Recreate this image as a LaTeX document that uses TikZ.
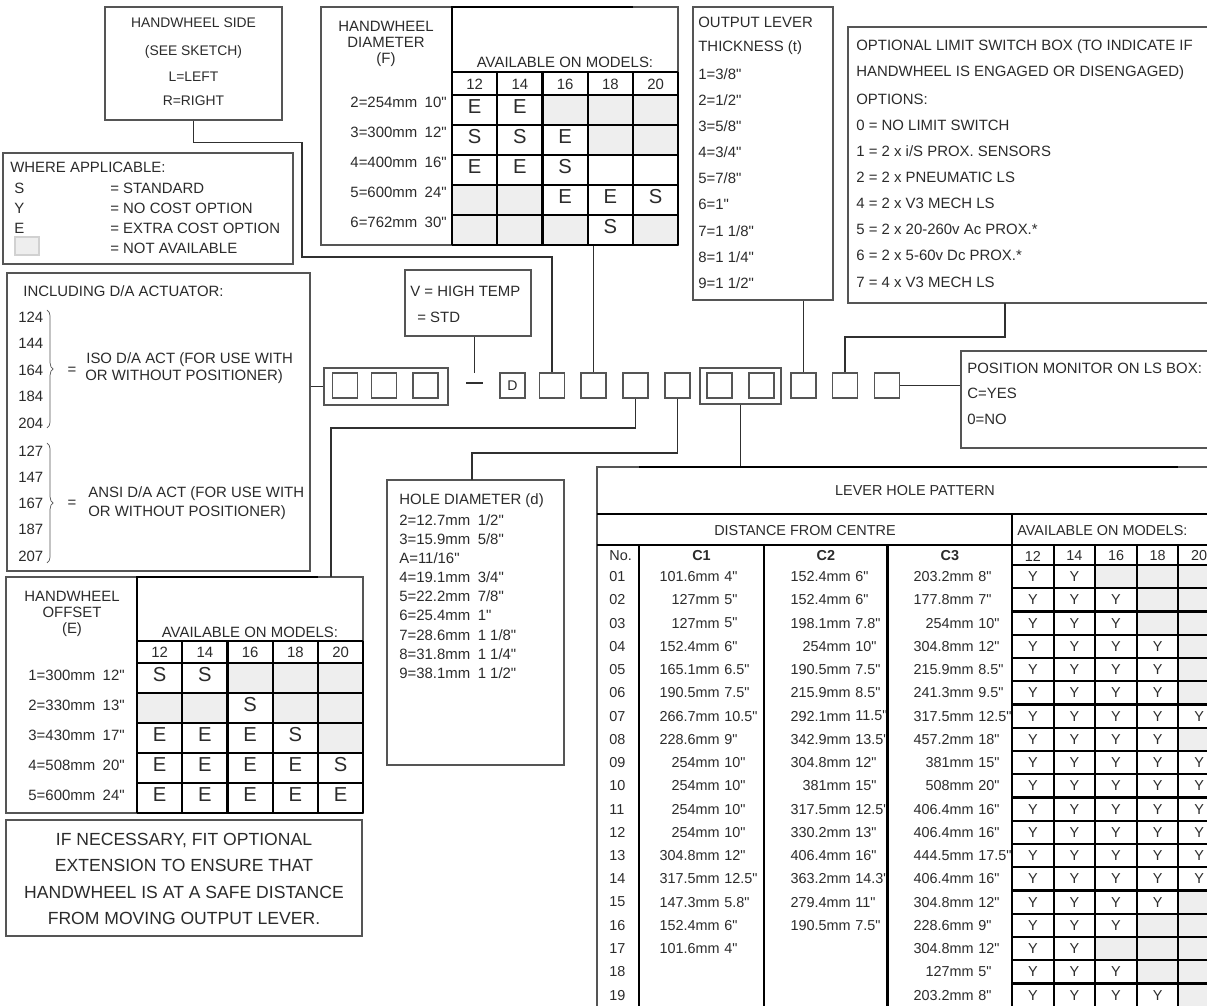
\documentclass[tikz,border=0pt]{standalone}
\usepackage{fontspec}
\setmainfont{Liberation Sans}[Ligatures=TeXOff]
\usetikzlibrary{fit,calc,decorations.pathreplacing}
\definecolor{txtc}{HTML}{2B2B2B}
\definecolor{boxc}{HTML}{555555}
\definecolor{conc}{HTML}{303030}
\definecolor{nac}{HTML}{EEEEEE}
\newcommand\tsz[1]{\fontsize{#1}{#1}\selectfont}

\begin{document}
\begin{tikzpicture}[x=0.02cm,y=-0.02cm,
    box/.style={draw=boxc,line width=0.7pt,inner sep=0pt},
    gline/.style={draw=black,line width=1.2pt},
    conn/.style={draw=conc,line width=1pt},
    sq/.style={draw=boxc,line width=0.8pt,minimum size=0.5cm,inner sep=0pt},
    lbl/.style={font=\tsz{8.5},text=txtc,inner sep=0pt,anchor=west},
    clbl/.style={font=\tsz{8.5},text=txtc,inner sep=0pt},
    tlbl/.style={font=\tsz{8.2},text=txtc,inner sep=0pt},
    big/.style={font=\tsz{11.5},text=txtc,inner sep=0pt},
    brc/.style={draw=boxc,line width=0.4pt,decorate,decoration={brace,amplitude=3.5pt}}]
    \useasboundingbox (0,0) rectangle (1207,1006);
    \clip (0,0) rectangle (1207,1006);
    \fill[white] (0,0) rectangle (1207,1006);

    % Handwheel side
    \node[box,fit={(105,7) (282,120)}] (hwside) {};
    \foreach \t/\yy [count=\i] in {HANDWHEEL SIDE/23,(SEE SKETCH)/52,L=LEFT/77,R=RIGHT/101}
      \node[clbl,font=\tsz{7.9}] (hs\i) at (193.5,\yy) {\t};

    % Legend
    \node[box,fit={(3,153) (293,264)}] (legend) {};
    \node[lbl] (lg0) at (10,167) {WHERE APPLICABLE:};
    \foreach \k/\t [count=\i] in {S/= STANDARD,Y/= NO COST OPTION,E/= EXTRA COST OPTION,/= NOT AVAILABLE} {
      \node[lbl] (lgk\i) at (14,{168+20*\i}) {\k};
      \node[lbl] (lgt\i) at (110,{168+20*\i}) {\t};
    }
    \node[box,fill=nac,draw=black!18,fit={(15,237) (39,255)}] (lgna) {};

    % Handwheel diameter
    \node[box,fit={(321,7) (678,245)}] (hwdia) {};
    \foreach \cells [count=\r] in {{E,E,-,-,-},{S,S,E,-,-},{E,E,S,o,o},{-,-,E,E,S},{-,-,-,S,-}}
      \foreach \v [count=\k] in \cells {
        \if\v-\fill[nac] ({452+45.26*(\k-1)},{65+30*\r}) rectangle ++(45.26,30);\fi
        \if\v-\else\if\v o\else\node[big] (dia\r\k) at ({429.4+45.26*\k},{77+30*\r}) {\v};\fi\fi
      }
    \foreach \i in {0,...,5}
      \draw[gline] ({452+45.26*\i},72) -- ++(0,173);
    \foreach \yy in {72,95,125,155,185,215,245}
      \draw[gline] (452,\yy) -- (678.3,\yy);
    \draw[gline] (633,7) -- (452,7) -- (452,72);
    \node[clbl] (diahead) at (565,62) {AVAILABLE ON MODELS:};
    \foreach \m [count=\k] in {12,14,16,18,20}
      \node[clbl] (diam\k) at ({429.4+45.26*\k},84) {\m};
    \node[clbl,align=center,font=\fontsize{8.5}{9.2}\selectfont] (diatitle) at (386,44) {HANDWHEEL\\DIAMETER\\(F)};
    \foreach \t [count=\r] in {2=254mm\enspace 10",3=300mm\enspace 12",4=400mm\enspace 16",5=600mm\enspace 24",6=762mm\enspace 30"}
      \node[clbl,anchor=east] (diar\r) at (447,{72+30*\r}) {\t};

    % Output lever thickness
    \node[box,fit={(693,7) (833,300)}] (outlev) {};
    \foreach \t [count=\i] in {OUTPUT LEVER,THICKNESS (t),1=3/8",2=1/2",3=5/8",4=3/4",5=7/8",6=1",7=1 1/8",8=1 1/4",9=1 1/2"}
      \node[lbl] (ol\i) at (698,{22+26.1*(\i-1)}) {\t};

    % Limit switch box
    \node[box,fit={(848,27) (1230,303)}] (limsw) {};
    \foreach \t [count=\i] in {OPTIONAL LIMIT SWITCH BOX (TO INDICATE IF,HANDWHEEL IS ENGAGED OR DISENGAGED),OPTIONS:,0 = NO LIMIT SWITCH,1 = 2 x i/S PROX. SENSORS,2 = 2 x PNEUMATIC LS,4 = 2 x V3 MECH LS,5 = 2 x 20-260v Ac PROX.*,6 = 2 x 5-60v Dc PROX.*,7 = 4 x V3 MECH LS}
      \node[lbl] (ls\i) at (856,{47+26.1*(\i-1)}) {\t};

    % Actuator
    \node[box,fit={(7,273) (310,571)}] (incl) {};
    \node[lbl] (inclhead) at (23,291) {INCLUDING D/A ACTUATOR:};
    \foreach \t [count=\i] in {124,144,164,184,204}
      \node[lbl] (iso\i) at (18,{317+26.5*(\i-1)}) {\t};
    \foreach \t [count=\i] in {127,147,167,187,207}
      \node[lbl] (ansi\i) at (18,{451+26.25*(\i-1)}) {\t};
    \draw[brc] (47,310) -- (47,428);
    \draw[brc] (47,443) -- (47,563);
    \node[clbl] (isoeq) at (72,371) {=};
    \node[lbl] (isot1) at (86,360) {ISO D/A ACT (FOR USE WITH};
    \node[lbl] (isot2) at (85,377) {OR WITHOUT POSITIONER)};
    \node[clbl] (ansieq) at (72,504) {=};
    \node[lbl] (ansit1) at (88,494) {ANSI D/A ACT (FOR USE WITH};
    \node[lbl] (ansit2) at (88,513) {OR WITHOUT POSITIONER)};

    % High temp
    \node[box,fit={(405,270) (531,336)}] (vtemp) {};
    \node[lbl] (vt1) at (410,291) {V = HIGH TEMP};
    \node[lbl] (vt2) at (417,317) {= STD};

    % Position monitor
    \node[box,fit={(961,351) (1230,448)}] (posmon) {};
    \foreach \t [count=\i] in {POSITION MONITOR ON LS BOX:,C=YES,0=NO}
      \node[lbl] (pm\i) at (967,{368+25.5*(\i-1)}) {\t};

    % Code boxes
    \node[box,fit={(324,368) (448,405)}] (grpact) {};
    \foreach \xx [count=\i] in {345,384,425.5}
      \node[sq] (act\i) at (\xx,385.5) {};
    \node[fill=conc,minimum width=0.34cm,minimum height=1.4pt,inner sep=0pt] (dash) at (474.5,383) {};
    \node[sq,font=\tsz{8},text=txtc] (sqd) at (512.5,385.5) {D};
    \node[sq] (sqside) at (552,385.5) {};
    \node[sq] (sqdia) at (593.5,385.5) {};
    \node[sq] (sqoff) at (635.5,385.5) {};
    \node[sq] (sqhole) at (677.5,385.5) {};
    \node[box,fit={(700,368) (781,404)}] (grppat) {};
    \node[sq] (pat1) at (719.5,385.5) {};
    \node[sq] (pat2) at (761.5,385.5) {};
    \node[sq] (sqlev) at (803.5,385.5) {};
    \node[sq] (sqls) at (845,385.5) {};
    \node[sq] (sqpm) at (887,385.5) {};

    % Handwheel offset
    \node[box,fit={(6,577) (363,813)}] (hwoff) {};
    \foreach \cells [count=\r] in {{S,S,-,-,-},{-,-,S,-,-},{E,E,E,S,-},{E,E,E,E,S},{E,E,E,E,E}}
      \foreach \v [count=\k] in \cells {
        \if\v-\fill[nac] ({137+45.26*(\k-1)},{633+30*\r}) rectangle ++(45.26,30);\fi
        \if\v-\else\node[big] (off\r\k) at ({114.4+45.26*\k},{645+30*\r}) {\v};\fi
      }
    \foreach \i in {0,...,5}
      \draw[gline] ({137+45.26*\i},641) -- (137+45.26*\i,813);
    \foreach \yy in {641,663,693,723,753,783,813}
      \draw[gline] (137,\yy) -- (363.3,\yy);
    \draw[gline] (318,577) -- (137,577) -- (137,641);
    \node[clbl] (offhead) at (250,632) {AVAILABLE ON MODELS:};
    \foreach \m [count=\k] in {12,14,16,18,20}
      \node[clbl] (offm\k) at ({114.4+45.26*\k},652) {\m};
    \node[clbl,align=center,font=\fontsize{8.5}{9.2}\selectfont] (offtitle) at (72,614) {HANDWHEEL\\OFFSET\\(E)};
    \foreach \t [count=\r] in {1=300mm\enspace 12",2=330mm\enspace 13",3=430mm\enspace 17",4=508mm\enspace 20",5=600mm\enspace 24"}
      \node[clbl,anchor=east] (offr\r) at (125,{645+30*\r}) {\t};

    % Note
    \node[box,fit={(6,820) (362,936)}] (note) {};
    \node[clbl,align=center,font=\fontsize{10}{14.9}\selectfont] (notet) at (184,879) {IF NECESSARY, FIT OPTIONAL\\EXTENSION TO ENSURE THAT\\HANDWHEEL IS AT A SAFE DISTANCE\\FROM MOVING OUTPUT LEVER.};

    % Hole diameter
    \node[box,fit={(387,480) (564,765)}] (hole) {};
    \foreach \t [count=\i] in {HOLE DIAMETER (d),2=12.7mm\enspace 1/2",3=15.9mm\enspace 5/8",A=11/16",4=19.1mm\enspace 3/4",5=22.2mm\enspace 7/8",6=25.4mm\enspace 1",7=28.6mm\enspace 1 1/8",8=31.8mm\enspace 1 1/4",9=38.1mm\enspace 1 1/2"}
      \node[lbl] (hd\i) at (399,{501+19.1*(\i-1)}) {\t};

    % Lever hole pattern
    \node[box,fit={(597,467) (1240,1030)}] (lever) {};
    \foreach \ma/\ia/\mb/\ib/\mc/\ic/\n [count=\r] in {
        101.6mm/4"/152.4mm/6"/203.2mm/8"/2,
        127mm/5"/152.4mm/6"/177.8mm/7"/3,
        127mm/5"/198.1mm/7.8"/254mm/10"/3,
        152.4mm/6"/254mm/10"/304.8mm/12"/4,
        165.1mm/6.5"/190.5mm/7.5"/215.9mm/8.5"/4,
        190.5mm/7.5"/215.9mm/8.5"/241.3mm/9.5"/4,
        266.7mm/10.5"/292.1mm/11.5"/317.5mm/12.5"/5,
        228.6mm/9"/342.9mm/13.5"/457.2mm/18"/4,
        254mm/10"/304.8mm/12"/381mm/15"/5,
        254mm/10"/381mm/15"/508mm/20"/5,
        254mm/10"/317.5mm/12.5"/406.4mm/16"/5,
        254mm/10"/330.2mm/13"/406.4mm/16"/5,
        304.8mm/12"/406.4mm/16"/444.5mm/17.5"/5,
        317.5mm/12.5"/363.2mm/14.3"/406.4mm/16"/5,
        147.3mm/5.8"/279.4mm/11"/304.8mm/12"/4,
        152.4mm/6"/190.5mm/7.5"/228.6mm/9"/3,
        101.6mm/4"///304.8mm/12"/2,
        ////127mm/5"/3,
        ////203.2mm/8"/4} {
      \pgfmathsetmacro\yy{576.6+23.25*(\r-1)}
      \node[tlbl,anchor=west] (no\r) at (609,\yy) {\ifnum\r<10 0\fi\r};
      \node[tlbl,anchor=east] (ma\r) at (720,\yy) {\ma};
      \node[tlbl,anchor=west] (ia\r) at (724,\yy) {\ia};
      \node[tlbl,anchor=east] (mb\r) at (851,\yy) {\mb};
      \node[tlbl,anchor=west] (ib\r) at (855,\yy) {\ib};
      \node[tlbl,anchor=east] (mc\r) at (974,\yy) {\mc};
      \node[tlbl,anchor=west] (ic\r) at (978,\yy) {\ic};
      \foreach \k in {1,...,5} {
        \ifnum\k>\n \fill[nac] ({1012+41.6*(\k-1)},{\yy-11.6}) rectangle ++(41.6,23.25);
        \else \node[tlbl] (av\r\k) at ({991.2+41.6*\k},\yy) {Y};\fi
      }
    }
    \draw[gline] (639,467) -- (1178,467);
    \draw[gline] (597,514) -- (1240,514);
    \draw[gline] (597,545) -- (1240,545);
    \draw[gline] (1012,514) -- (1012,1030);
    \foreach \xx in {639,764,887.5,1053.6,1095.2,1136.8,1178.4,1220}
      \draw[gline] (\xx,545) -- (\xx,1030);
    \foreach \i in {0,...,19}
      \draw[gline] (1012,{565+23.25*\i}) -- (1240,{565+23.25*\i});
    \node[clbl,font=\tsz{8.2}] (levtitle) at (915,491) {LEVER HOLE PATTERN};
    \node[clbl,font=\tsz{8.2}] (levdist) at (805,531) {DISTANCE FROM CENTRE};
    \node[lbl,font=\tsz{8.2}] (levavail) at (1017,531) {AVAILABLE ON MODELS:};
    \node[tlbl,anchor=west] (levno) at (609,556) {No.};
    \foreach \t/\xx in {C1/701.5,C2/825.8,C3/949.8}
      \node[tlbl,font=\bfseries\tsz{8.2}] (lev\t) at (\xx,556) {\t};
    \foreach \m [count=\k] in {12,14,16,18,20}
      \node[tlbl] (levm\k) at ({991.2+41.6*\k},556) {\m};

    % Connectors
    \coordinate (offin) at (331,577);
    \coordinate (holein) at (471.7,480);
    \coordinate (lsin) at (1005,303);
    \draw[conn] (hwside.south) -- ++(0,22) -| (302,257) -| (sqside.north);
    \draw[conn] (sqdia.north) -- (sqdia.north |- hwdia.south);
    \draw[conn] (sqoff.south) -- ++(0,29) -| (offin);
    \draw[conn] (sqhole.south) -- ++(0,54) -| (holein);
    \draw[conn] (grppat.south) -- (grppat.south |- lever.north);
    \draw[conn] (sqlev.north) -- (sqlev.north |- outlev.south);
    \draw[conn] (sqls.north) -- ++(0,-35) -| (lsin);
    \draw[conn] (sqpm.east) -- (sqpm.east -| posmon.west);
    \draw[conn] (incl.east |- grpact.west) -- (grpact.west);
    \draw[conn] (vtemp.south -| dash.north) -- ($(dash.north)+(0,-8.5)$);
\end{tikzpicture}
\end{document}
